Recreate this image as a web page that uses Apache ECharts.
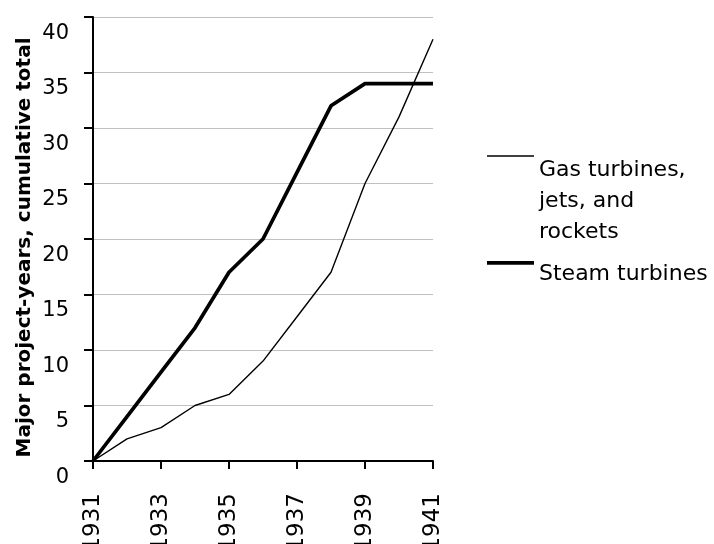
<!DOCTYPE html>
<html>
<head>
<meta charset="utf-8">
<script src="https://cdn.jsdelivr.net/npm/echarts@6/dist/echarts.min.js"></script>
<style>html,body{margin:0;padding:0;background:#fff}#c{width:714px;height:544px}</style>
</head>
<body>
<div id="c"></div>
<script>
const years = ['1931','1932','1933','1934','1935','1936','1937','1938','1939','1940','1941'];
const gasTurbines = [0, 2, 3, 5, 6, 9, 13, 17, 25, 31, 38];
const steamTurbines = [0, 4, 8, 12, 17, 20, 26, 32, 34, 34, 34];
const gasName = 'Gas turbines,\njets, and\nrockets';
const steamName = 'Steam turbines';
const yAxisTitle = 'Major project-years, cumulative total';

const FONT = 'DejaVu Sans';
function legendText(name) {
  return '{sp| }\n' + name.split('\n').map(function (l) { return '{t|' + l + '}'; }).join('\n');
}
const chart = echarts.init(document.getElementById('c'));
chart.setOption({
  animation: false,
  backgroundColor: '#fff',
  grid: { left: 93, right: 281, top: 17, bottom: 83, containLabel: false, outerBoundsMode: 'none' },
  legend: [
    {
      data: [gasName], left: 487, top: 64.5, padding: 0,
      icon: 'rect', itemWidth: 47, itemHeight: 1.5,
      itemStyle: { color: '#000' },
      formatter: legendText,
      textStyle: {
        color: '#000',
        rich: {
          sp: { fontSize: 10, lineHeight: 90, height: 90 },
          t: { fontFamily: FONT, fontSize: 22, color: '#000', lineHeight: 31 }
        }
      }
    },
    {
      data: [steamName], left: 487, top: 236, padding: 0,
      icon: 'rect', itemWidth: 47, itemHeight: 3.7,
      itemStyle: { color: '#000' },
      formatter: legendText,
      textStyle: {
        color: '#000',
        rich: {
          sp: { fontSize: 10, lineHeight: 22.6, height: 22.6 },
          t: { fontFamily: FONT, fontSize: 22, color: '#000', lineHeight: 31 }
        }
      }
    }
  ],
  xAxis: {
    type: 'category', data: years, boundaryGap: false,
    axisLine: { lineStyle: { color: '#000', width: 2 } },
    axisTick: { show: true, interval: 1, length: 8, lineStyle: { color: '#000', width: 2 } },
    axisLabel: { interval: 1, rotate: 90, margin: 32, fontFamily: FONT, fontSize: 23, color: '#000' },
    splitLine: { show: false }
  },
  yAxis: {
    type: 'value', min: 0, max: 40, interval: 5,
    name: yAxisTitle, nameLocation: 'middle', nameGap: 58, nameRotate: 90, nameMoveOverlap: false,
    nameTextStyle: { fontFamily: FONT, fontSize: 20, fontWeight: 'bold', color: '#000', padding: [0, 17, 0, 0] },
    axisLine: { show: true, lineStyle: { color: '#000', width: 2 } },
    axisTick: { show: true, inside: false, length: 9, lineStyle: { color: '#000', width: 2 } },
    axisLabel: { margin: 24, fontFamily: FONT, fontSize: 21, color: '#000', verticalAlign: 'top', lineHeight: 33 },
    splitLine: { show: true, lineStyle: { color: '#c0c0c0', width: 1 } }
  },
  series: [
    {
      name: gasName, type: 'line', data: gasTurbines, symbol: 'none',
      lineStyle: { color: '#000', width: 1.4 }, itemStyle: { color: '#000' }
    },
    {
      name: steamName, type: 'line', data: steamTurbines, symbol: 'none',
      lineStyle: { color: '#000', width: 3.7 }, itemStyle: { color: '#000' }
    }
  ]
});
</script>
</body>
</html>
